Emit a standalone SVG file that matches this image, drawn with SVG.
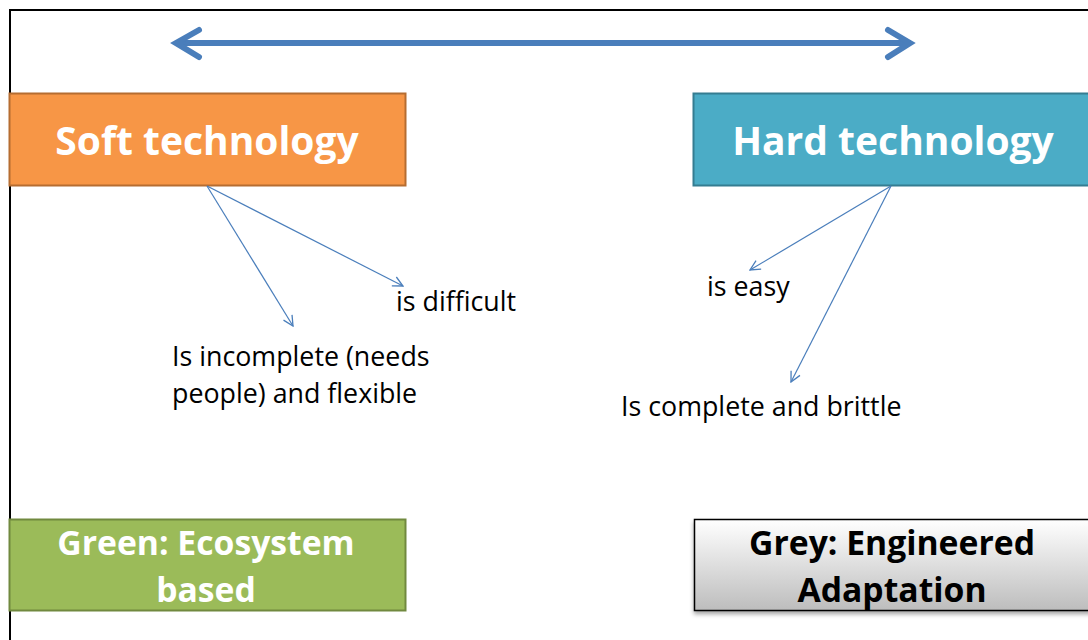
<svg xmlns="http://www.w3.org/2000/svg" width="1088" height="640" viewBox="0 0 1088 640">
<style>
.title{font-family:"Open Sans",Lato,"Liberation Sans",sans-serif;font-weight:bold;fill:#fff;text-anchor:middle}
.lbl{font-family:"Open Sans",Lato,"Liberation Sans",sans-serif;font-size:26.8px;fill:#000}
.conn{stroke:#4A7EBB;stroke-width:1.2;fill:none}
</style>
<defs>
<marker id="open" viewBox="0 0 12 12" refX="11" refY="6" markerWidth="12" markerHeight="12" markerUnits="userSpaceOnUse" orient="auto">
<path d="M1,1 L11,6 L1,11" fill="none" stroke="#4A7EBB" stroke-width="1.3"/>
</marker>
<linearGradient id="grey" x1="0" y1="0" x2="0" y2="1">
<stop offset="0" stop-color="#ffffff"/>
<stop offset="1" stop-color="#bdbdbd"/>
</linearGradient>
<filter id="sh" x="-5%" y="-5%" width="115%" height="125%">
<feDropShadow dx="0" dy="3" stdDeviation="2" flood-color="#000" flood-opacity="0.35"/>
</filter>
</defs>
<rect width="1088" height="640" fill="#fff"/>
<rect x="10" y="10" width="1100" height="660" fill="none" stroke="#000" stroke-width="2"/>
<g id="range-arrow">
<line x1="180" y1="43" x2="905" y2="43" stroke="#4A7EBB" stroke-width="6"/>
<path d="M199,30 L176,43 L199,57 M888,30 L910,43 L888,57" fill="none" stroke="#4A7EBB" stroke-width="6" stroke-linecap="round" stroke-linejoin="miter"/>
</g>
<g id="soft">
<rect x="9.5" y="93.5" width="396" height="92" fill="#F79646" stroke="#B66D31" stroke-width="2"/>
<text class="title" x="207" y="155" font-size="39">Soft technology</text>
</g>
<g id="hard">
<rect x="693.5" y="93.5" width="420" height="92" fill="#4BACC6" stroke="#357D91" stroke-width="2"/>
<text class="title" x="893" y="155" font-size="39">Hard technology</text>
</g>
<g id="green">
<rect x="9.5" y="519.5" width="396" height="91" fill="#9BBB59" stroke="#71893F" stroke-width="2"/>
<text class="title" x="206" y="555" font-size="33.7">Green: Ecosystem</text>
<text class="title" x="206" y="602" font-size="33.7">based</text>
</g>
<g id="grey-box">
<rect x="694.5" y="519.5" width="420" height="91" fill="url(#grey)" stroke="#000" stroke-width="1.5" filter="url(#sh)"/>
<text class="title" x="892" y="555" font-size="33.7" style="fill:#000">Grey: Engineered</text>
<text class="title" x="892" y="602" font-size="33.7" style="fill:#000">Adaptation</text>
</g>
<g id="connectors">
<line class="conn" x1="207" y1="186" x2="293" y2="326" marker-end="url(#open)"/>
<line class="conn" x1="207" y1="186" x2="403" y2="286" marker-end="url(#open)"/>
<line class="conn" x1="891" y1="186" x2="750" y2="270" marker-end="url(#open)"/>
<line class="conn" x1="891" y1="186" x2="791" y2="382" marker-end="url(#open)"/>
</g>
<g id="label-difficult"><text class="lbl" x="396" y="311">is difficult</text></g>
<g id="label-incomplete">
<text class="lbl" x="172" y="366">Is incomplete (needs</text>
<text class="lbl" x="172" y="403">people) and flexible</text>
</g>
<g id="label-easy"><text class="lbl" x="707" y="296">is easy</text></g>
<g id="label-complete"><text class="lbl" x="621" y="416">Is complete and brittle</text></g>
</svg>
